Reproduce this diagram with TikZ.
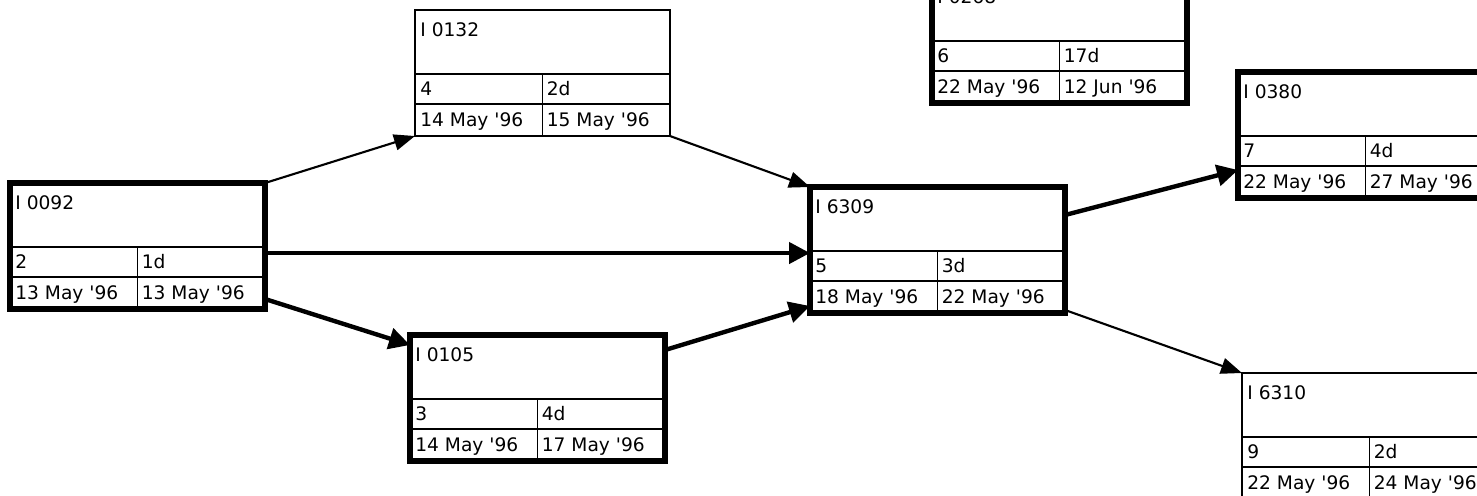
\documentclass[tikz,border=0pt]{standalone}
\usepackage{fontspec}
\setmainfont{DejaVu Sans}
\usepackage{tikz}
\usetikzlibrary{arrows.meta, positioning, calc}

% one PERT task box: name, box style, position, id, number, duration, start, finish
\newcommand{\pertbox}[8]{%
    \node[#2, anchor=north west] (#1) at #3 {};
    \draw[divider] ([yshift=-12.8mm]#1.north west) -- ([yshift=-12.8mm]#1.north east);
    \draw[divider] ([yshift=-18.8mm]#1.north west) -- ([yshift=-18.8mm]#1.north east);
    \draw[divider] ([yshift=-12.8mm]#1.north) -- (#1.south);
    \node[cell] (#1-id) at ([xshift=1mm, yshift=-5.2mm]#1.north west) {#4};
    \node[cell] (#1-nr) at ([xshift=1mm, yshift=-17.1mm]#1.north west) {#5};
    \node[cell] (#1-dur) at ([xshift=0.8mm, yshift=-17.1mm]#1.north) {#6};
    \node[cell] (#1-start) at ([xshift=1mm, yshift=-23.3mm]#1.north west) {#7};
    \node[cell] (#1-end) at ([xshift=0.8mm, yshift=-23.3mm]#1.north) {#8};
}
\newcommand{\yr}{\textquotesingle 96}

\begin{document}
\begin{tikzpicture}[x=0.2mm, y=-0.2mm,
    taskbox/.style={draw, fill=white, line width=1.2pt, minimum width=51mm,
                    minimum height=25.2mm, inner sep=0pt, outer sep=0pt},
    critbox/.style={taskbox, line width=3pt},
    divider/.style={line width=0.8pt},
    cell/.style={anchor=base west, inner sep=0pt, font=\fontsize{10.6pt}{12pt}\selectfont},
    link/.style={line width=1.2pt, -{Triangle[length=4.2mm, width=3.2mm]}},
    critlink/.style={line width=2.5pt, -{Triangle[length=4.2mm, width=4.2mm]}},
]
    \useasboundingbox (0,0) rectangle (1477,495);
    \clip (0,0) rectangle (1477,495);

    \pertbox{t0092}{critbox}{(10,183)}{I 0092}{2}{1d}{13 May \yr}{13 May \yr}
    \pertbox{t0132}{taskbox}{(415,10)}{I 0132}{4}{2d}{14 May \yr}{15 May \yr}
    \pertbox{t0105}{critbox}{(410,335)}{I 0105}{3}{4d}{14 May \yr}{17 May \yr}
    \pertbox{t6309}{critbox}{(810,187)}{I 6309}{5}{3d}{18 May \yr}{22 May \yr}
    \pertbox{t0268}{critbox}{(932,-23)}{I 0268}{6}{17d}{22 May \yr}{12 Jun \yr}
    \pertbox{t0380}{critbox}{(1238,72)}{I 0380}{7}{4d}{22 May \yr}{27 May \yr}
    \pertbox{t6310}{taskbox}{(1242,373)}{I 6310}{9}{2d}{22 May \yr}{24 May \yr}

    \draw[link] (t0092.north east) -- (t0132.south west);
    \draw[link] (t0132.south east) -- (t6309.north west);
    \draw[critlink] ([yshift=-1.4mm]t0092.east) -- ([yshift=-1.4mm]t0092.east -| t6309.west);
    \draw[critlink] ([yshift=2mm]t0092.south east) -- ([yshift=-2mm]t0105.north west);
    \draw[critlink] ([yshift=-3mm]t0105.north east) -- ([yshift=1.4mm]t6309.south west);
    \draw[critlink] ([yshift=-5.6mm]t6309.north east) -- ([yshift=5.6mm]t0380.south west);
    \draw[link] ([yshift=0.6mm]t6309.south east) -- (t6310.north west);
\end{tikzpicture}
\end{document}
